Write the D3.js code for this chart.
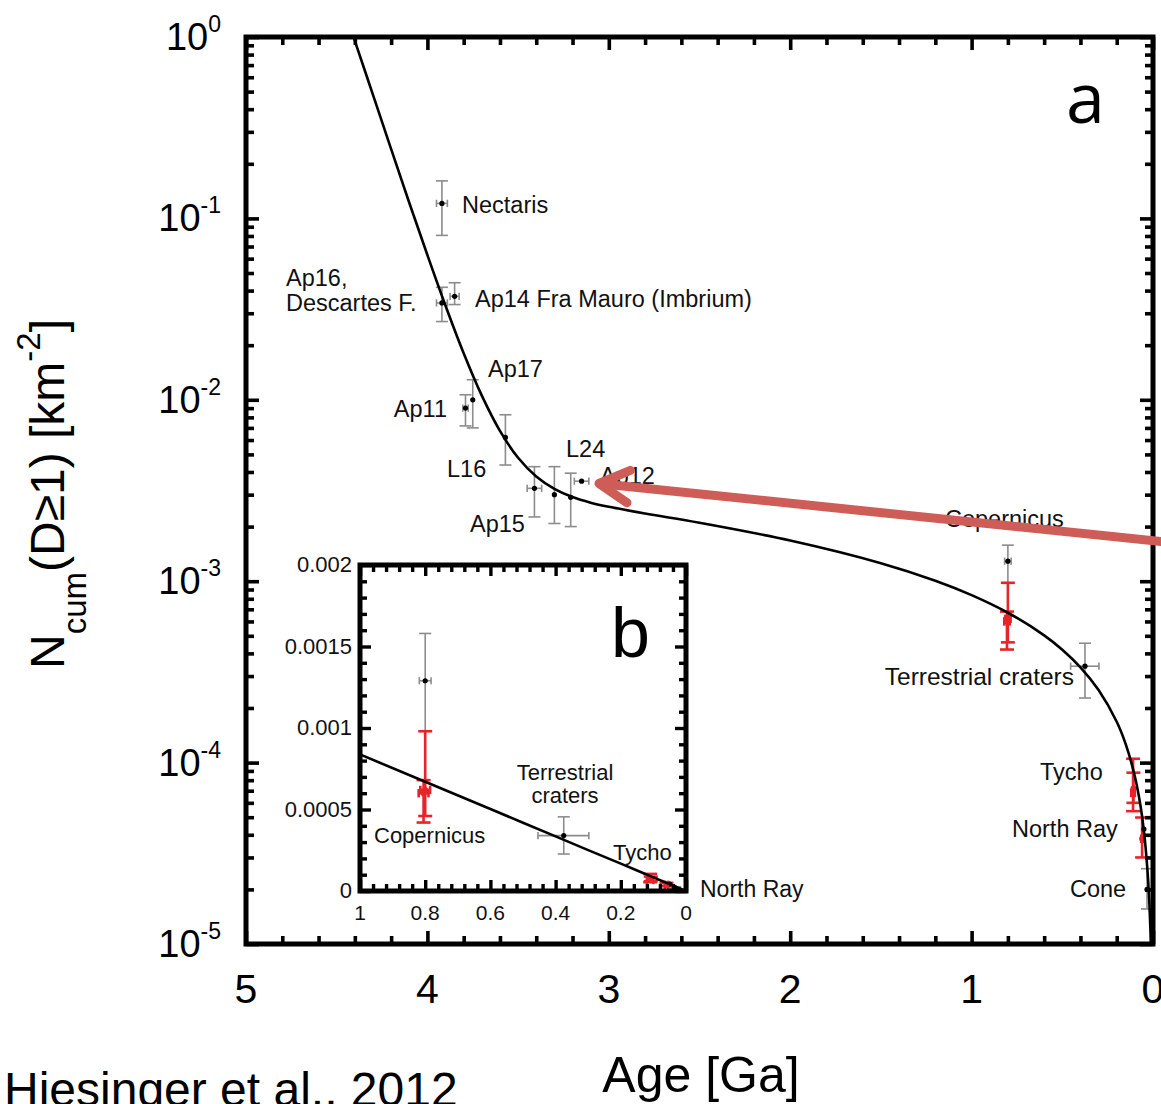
<!DOCTYPE html>
<html>
<head>
<meta charset="utf-8">
<script src="https://cdn.jsdelivr.net/npm/d3@7"></script>
<style>
  html, body { margin: 0; padding: 0; background: #fff; }
  svg { display: block; }
</style>
</head>
<body>
<svg id="chart" width="1161" height="1104"></svg>
<script>
// ---- Chronology curve: cumulative crater density N(D>=1 km) [km^-2] vs. age [Ga]
const curveAge = [0, 0.012, 0.015, 0.02, 0.03, 0.05, 0.07, 0.1, 0.15, 0.2, 0.3, 0.4, 0.5, 0.6, 0.8, 1.0,
                  1.2, 1.5, 2.0, 2.5, 2.8, 3.0, 3.1, 3.2, 3.3, 3.4, 3.5, 3.6, 3.7, 3.8, 3.9, 4.0,
                  4.1, 4.2, 4.3, 4.4, 4.45];
const curveN   = [0, 1.01e-5, 1.26e-5, 1.68e-5, 2.51e-5, 4.19e-5, 5.87e-5, 8.38e-5, 1.26e-4, 1.68e-4,
                  2.51e-4, 3.35e-4, 4.19e-4, 5.03e-4, 6.70e-4, 8.38e-4, 1.006e-3, 1.257e-3, 1.676e-3,
                  2.10e-3, 2.36e-3, 2.57e-3, 2.71e-3, 2.91e-3, 3.23e-3, 3.78e-3, 4.79e-3, 6.74e-3,
                  1.054e-2, 1.805e-2, 3.30e-2, 6.28e-2, 0.122, 0.241, 0.480, 0.953, 1.34];

// ---- Calibration sites (black points, grey error bars)
const grayAge   = [3.92, 3.92, 3.85, 3.75, 3.79, 3.57, 3.41, 3.30, 3.21, 3.15, 0.80, 0.375, 0.05, 0.033];
const grayAgeLo = [3.89, 3.89, 3.825, 3.75, 3.775, 3.57, 3.37, 3.30, 3.21, 3.11, 0.782, 0.298, 0.05, 0.033];
const grayAgeHi = [3.95, 3.95, 3.875, 3.75, 3.805, 3.57, 3.45, 3.30, 3.21, 3.19, 0.818, 0.454, 0.05, 0.033];
const grayN     = [0.121, 0.0342, 0.0372, 0.0100, 0.0090, 0.0062, 0.00325, 0.0030, 0.0029, 0.00356,
                   0.00129, 0.00034, 4.3e-5, 2.0e-5];
const grayNLo   = [0.0806, 0.0270, 0.0335, 0.0070, 0.00718, 0.00437, 0.00226, 0.00208, 0.0020, 0.00356,
                   0.00098, 0.000227, 4.3e-5, 1.56e-5];
const grayNHi   = [0.161, 0.0417, 0.0442, 0.0129, 0.01066, 0.00827, 0.00428, 0.00428, 0.00394, 0.00356,
                   0.00158, 0.000455, 4.3e-5, 2.6e-5];

// ---- Young rayed craters (red points, red error bars)
const redAge   = [0.80, 0.805, 0.11, 0.108, 0.06];
const redAgeLo = [0.785, 0.79, 0.10, 0.108, 0.055];
const redAgeHi = [0.815, 0.82, 0.12, 0.108, 0.065];
const redN     = [0.00062, 0.00060, 6.8e-5, 7.2e-5, 3.8e-5];
const redNLo   = [0.00046, 0.00042, 5.4e-5, 6.0e-5, 3.0e-5];
const redNHi   = [0.00098, 0.00068, 1.05e-4, 8.8e-5, 4.98e-5];

// ---- Tick values and labels
const xTicksMain   = [5, 4, 3, 2, 1, 0];
const yDecades     = [1e-5, 1e-4, 1e-3, 1e-2, 1e-1, 1];
const yDecadeExp   = ["-5", "-4", "-3", "-2", "-1", "0"];
const insetXTicks  = [1, 0.8, 0.6, 0.4, 0.2, 0];
const insetXLabels = ["1", "0.8", "0.6", "0.4", "0.2", "0"];
const insetYTicks  = [0, 0.0005, 0.001, 0.0015, 0.002];
const insetYLabels = ["0", "0.0005", "0.001", "0.0015", "0.002"];

const FONT = "'Liberation Sans', Arial, Helvetica, sans-serif";
const svg = d3.select("#chart").style("font-family", FONT);
svg.append("rect").attr("width", 1161).attr("height", 1104).attr("fill", "#fff");

const curve = curveAge.map((a, i) => ({ age: a, n: curveN[i] }));
const gray = grayAge.map((a, i) => ({ age: a, lo: grayAgeLo[i], hi: grayAgeHi[i],
  n: grayN[i], nLo: grayNLo[i], nHi: grayNHi[i] }));
const red = redAge.map((a, i) => ({ age: a, lo: redAgeLo[i], hi: redAgeHi[i],
  n: redN[i], nLo: redNLo[i], nHi: redNHi[i] }));

// ================= main panel (a) =================
const M = { left: 246, right: 1153, top: 37, bottom: 944 };
const x = d3.scaleLinear().domain([5, 0]).range([M.left, M.right]);
const y = d3.scaleLog().domain([1e-5, 1]).range([M.bottom, M.top]);

const defs = svg.append("defs");
defs.append("clipPath").attr("id", "clipMain").append("rect")
  .attr("x", M.left).attr("y", M.top).attr("width", M.right - M.left).attr("height", M.bottom - M.top);

const plot = svg.append("g").attr("clip-path", "url(#clipMain)");

function drawErrorBars(g, pts, xs, ys, color, width, cap) {
  const bars = g.append("g").attr("stroke", color).attr("stroke-width", width).attr("fill", "none");
  pts.forEach(p => {
    if (p.nHi > p.nLo) {
      bars.append("line").attr("x1", xs(p.age)).attr("x2", xs(p.age)).attr("y1", ys(p.nLo)).attr("y2", ys(p.nHi));
      [p.nLo, p.nHi].forEach(v => bars.append("line")
        .attr("x1", xs(p.age) - cap).attr("x2", xs(p.age) + cap).attr("y1", ys(v)).attr("y2", ys(v)));
    }
    if (p.hi > p.lo) {
      bars.append("line").attr("x1", xs(p.lo)).attr("x2", xs(p.hi)).attr("y1", ys(p.n)).attr("y2", ys(p.n));
      [p.lo, p.hi].forEach(v => bars.append("line")
        .attr("x1", xs(v)).attr("x2", xs(v)).attr("y1", ys(p.n) - cap * 0.6).attr("y2", ys(p.n) + cap * 0.6));
    }
  });
}

drawErrorBars(plot, gray, x, y, "#8c8c8c", 1.6, 6);
drawErrorBars(plot, red, x, y, "#e8232a", 2.6, 7);

plot.append("g").selectAll("circle").data(gray).join("circle")
  .attr("cx", d => x(d.age)).attr("cy", d => y(d.n)).attr("r", 2.6).attr("fill", "#000");
plot.append("g").selectAll("circle").data(red).join("circle")
  .attr("cx", d => x(d.age)).attr("cy", d => y(d.n)).attr("r", 3).attr("fill", "#e8232a");

const mainLine = d3.line().x(d => x(d.age)).y(d => y(d.n)).curve(d3.curveCatmullRom.alpha(0.5));
plot.append("path").datum(curve.filter(d => d.n > 0))
  .attr("d", mainLine).attr("fill", "none").attr("stroke", "#000").attr("stroke-width", 2.6);

// ticks on all four sides, pointing inward
function tickAxis(axisFn, scale, values, size, transform, sw) {
  const g = svg.append("g").attr("transform", transform)
    .call(axisFn(scale).tickValues(values).tickSize(-size).tickFormat(""));
  g.select(".domain").remove();
  g.selectAll("line").attr("stroke", "#000").attr("stroke-width", sw);
  return g;
}
const xMinor = d3.range(0, 5.001, 0.2).filter(v => Math.abs(v - Math.round(v)) > 1e-6);
const yMinor = [];
yDecades.slice(0, -1).forEach(d => { for (let k = 2; k <= 9; k++) yMinor.push(d * k); });

[[d3.axisBottom, `translate(0,${M.bottom})`], [d3.axisTop, `translate(0,${M.top})`]].forEach(([fn, tr]) => {
  tickAxis(fn, x, xTicksMain, 13, tr, 3.6);
  tickAxis(fn, x, xMinor, 8, tr, 3.6);
});
[[d3.axisLeft, `translate(${M.left},0)`], [d3.axisRight, `translate(${M.right},0)`]].forEach(([fn, tr]) => {
  tickAxis(fn, y, yDecades, 13, tr, 3.6);
  tickAxis(fn, y, yMinor, 8, tr, 3.6);
});

svg.append("rect").attr("x", M.left).attr("y", M.top)
  .attr("width", M.right - M.left).attr("height", M.bottom - M.top)
  .attr("fill", "none").attr("stroke", "#000").attr("stroke-width", 5);

// tick labels
svg.append("g").selectAll("text").data(xTicksMain).join("text")
  .attr("x", d => x(d)).attr("y", 1003).attr("text-anchor", "middle")
  .attr("font-size", 41).attr("fill", "#000").text(d => d);

const yl = svg.append("g").selectAll("text").data(yDecades).join("text")
  .attr("x", 221).attr("y", d => y(d) + 13).attr("text-anchor", "end")
  .attr("font-size", 38).attr("fill", "#000");
yl.append("tspan").text("10");
yl.append("tspan").attr("dy", -18).attr("font-size", 23).text((d, i) => yDecadeExp[i]);

// axis titles
svg.append("text").attr("x", 701).attr("y", 1092).attr("text-anchor", "middle")
  .attr("font-size", 50).attr("fill", "#000").text("Age [Ga]");

const yt = svg.append("text").attr("transform", "translate(64,494) rotate(-90)")
  .attr("text-anchor", "middle").attr("font-size", 48).attr("fill", "#000");
yt.append("tspan").text("N");
yt.append("tspan").attr("font-size", 33).attr("dy", 22).text("cum");
yt.append("tspan").attr("dy", -22).text("(D\u22651) [km");
yt.append("tspan").attr("font-size", 33).attr("dy", -24).text("-2");
yt.append("tspan").attr("dy", 24).text("]");

svg.append("text").attr("x", 4).attr("y", 1106).attr("font-size", 48).attr("fill", "#000")
  .text("Hiesinger et al., 2012");

svg.append("text").attr("x", 1066).attr("y", 123).attr("font-size", 70)
  .attr("font-family", "'Open Sans', 'DejaVu Sans', sans-serif").attr("fill", "#000").text("a");

// site labels
const mainLabels = [
  { t: "Nectaris", x: 462, y: 213, a: "start" },
  { t: "Ap16,", x: 286, y: 286, a: "start" },
  { t: "Descartes F.", x: 286, y: 311, a: "start" },
  { t: "Ap14 Fra Mauro (Imbrium)", x: 475, y: 307, a: "start" },
  { t: "Ap17", x: 488, y: 377, a: "start" },
  { t: "Ap11", x: 447, y: 417, a: "end" },
  { t: "L16", x: 447, y: 477, a: "start" },
  { t: "Ap15", x: 470, y: 532, a: "start" },
  { t: "L24", x: 566, y: 457, a: "start" },
  { t: "Ap12", x: 600, y: 484, a: "start" },
  { t: "Copernicus", x: 945, y: 527, a: "start" },
  { t: "Terrestrial craters", x: 1074, y: 685, a: "end" },
  { t: "Tycho", x: 1040, y: 780, a: "start" },
  { t: "North Ray", x: 1012, y: 837, a: "start" },
  { t: "Cone", x: 1070, y: 897, a: "start" }
];
svg.append("g").selectAll("text").data(mainLabels).join("text")
  .attr("x", d => d.x).attr("y", d => d.y).attr("text-anchor", d => d.a)
  .attr("font-size", d => d.t === "Terrestrial craters" ? 24.5 : 23.5).attr("fill", "#111").text(d => d.t);

// ================= inset panel (b) =================
const I = { left: 360, right: 686, top: 565, bottom: 891 };
const xi = d3.scaleLinear().domain([1, 0]).range([I.left, I.right]);
const yi = d3.scaleLinear().domain([0, 0.002]).range([I.bottom, I.top]);

svg.append("rect").attr("x", I.left).attr("y", I.top)
  .attr("width", I.right - I.left).attr("height", I.bottom - I.top).attr("fill", "#fff");
defs.append("clipPath").attr("id", "clipInset").append("rect")
  .attr("x", I.left).attr("y", I.top).attr("width", I.right - I.left).attr("height", I.bottom - I.top);
const inset = svg.append("g").attr("clip-path", "url(#clipInset)");

const grayYoung = gray.filter(d => d.age <= 1);
const redYoung = red.filter(d => d.age <= 1);
drawErrorBars(inset, grayYoung, xi, yi, "#8c8c8c", 1.6, 6);
drawErrorBars(inset, redYoung, xi, yi, "#e8232a", 2.6, 7);
inset.append("g").selectAll("circle").data(grayYoung).join("circle")
  .attr("cx", d => xi(d.age)).attr("cy", d => yi(d.n)).attr("r", 2.6).attr("fill", "#000");
inset.append("g").selectAll("circle").data(redYoung).join("circle")
  .attr("cx", d => xi(d.age)).attr("cy", d => yi(d.n)).attr("r", 3).attr("fill", "#e8232a");

const insetLine = d3.line().x(d => xi(d.age)).y(d => yi(d.n));
inset.append("path").datum(curve.filter(d => d.age <= 1.2))
  .attr("d", insetLine).attr("fill", "none").attr("stroke", "#000").attr("stroke-width", 2.6);

const xiMinor = d3.range(0, 1.0001, 0.04).filter(v => Math.abs(v * 5 - Math.round(v * 5)) > 1e-6);
const yiMinor = d3.range(0, 0.0020001, 0.0001).filter(v => Math.abs(v / 0.0005 - Math.round(v / 0.0005)) > 1e-6);
[[d3.axisBottom, `translate(0,${I.bottom})`], [d3.axisTop, `translate(0,${I.top})`]].forEach(([fn, tr]) => {
  tickAxis(fn, xi, insetXTicks, 11, tr, 3.4);
  tickAxis(fn, xi, xiMinor, 7, tr, 3.4);
});
[[d3.axisLeft, `translate(${I.left},0)`], [d3.axisRight, `translate(${I.right},0)`]].forEach(([fn, tr]) => {
  tickAxis(fn, yi, insetYTicks, 11, tr, 3.4);
  tickAxis(fn, yi, yiMinor, 7, tr, 3.4);
});
svg.append("rect").attr("x", I.left).attr("y", I.top)
  .attr("width", I.right - I.left).attr("height", I.bottom - I.top)
  .attr("fill", "none").attr("stroke", "#000").attr("stroke-width", 5);

svg.append("g").selectAll("text").data(insetXTicks).join("text")
  .attr("x", d => xi(d)).attr("y", 920).attr("text-anchor", "middle")
  .attr("font-size", 21).attr("fill", "#111").text((d, i) => insetXLabels[i]);
svg.append("g").selectAll("text").data(insetYTicks).join("text")
  .attr("x", 352).attr("y", d => yi(d) + 7).attr("text-anchor", "end")
  .attr("font-size", 22).attr("fill", "#111").text((d, i) => insetYLabels[i]);

svg.append("text").attr("x", 611).attr("y", 657).attr("font-size", 70).attr("fill", "#000").text("b");

const insetLabels = [
  { t: "Terrestrial", x: 565, y: 780, a: "middle" },
  { t: "craters", x: 565, y: 803, a: "middle" },
  { t: "Copernicus", x: 374, y: 843, a: "start" },
  { t: "Tycho", x: 613, y: 860, a: "start" },
  { t: "North Ray", x: 700, y: 897, a: "start" }
];
svg.append("g").selectAll("text").data(insetLabels).join("text")
  .attr("x", d => d.x).attr("y", d => d.y).attr("text-anchor", d => d.a)
  .attr("font-size", d => d.t === "North Ray" ? 23 : 22).attr("fill", "#111").text(d => d.t);

// ================= pointer arrow =================
const tip = [599, 483.5];
const tail = [1175, 543];
const ang = Math.atan2(tail[1] - tip[1], tail[0] - tip[0]);
const armLen = 34, spread = 0.5;
const arm = s => [tip[0] + armLen * Math.cos(ang + s * spread), tip[1] + armLen * Math.sin(ang + s * spread)];
const arrow = svg.append("g").attr("stroke", "#ce5d57").attr("stroke-width", 9)
  .attr("fill", "none").attr("stroke-linecap", "round").attr("stroke-linejoin", "round");
arrow.append("line").attr("x1", tip[0] + 4).attr("y1", tip[1] + 0.4).attr("x2", tail[0]).attr("y2", tail[1]);
arrow.append("polyline").attr("points", [arm(-1), tip, arm(1)].map(p => p.join(",")).join(" "));
</script>
</body>
</html>
